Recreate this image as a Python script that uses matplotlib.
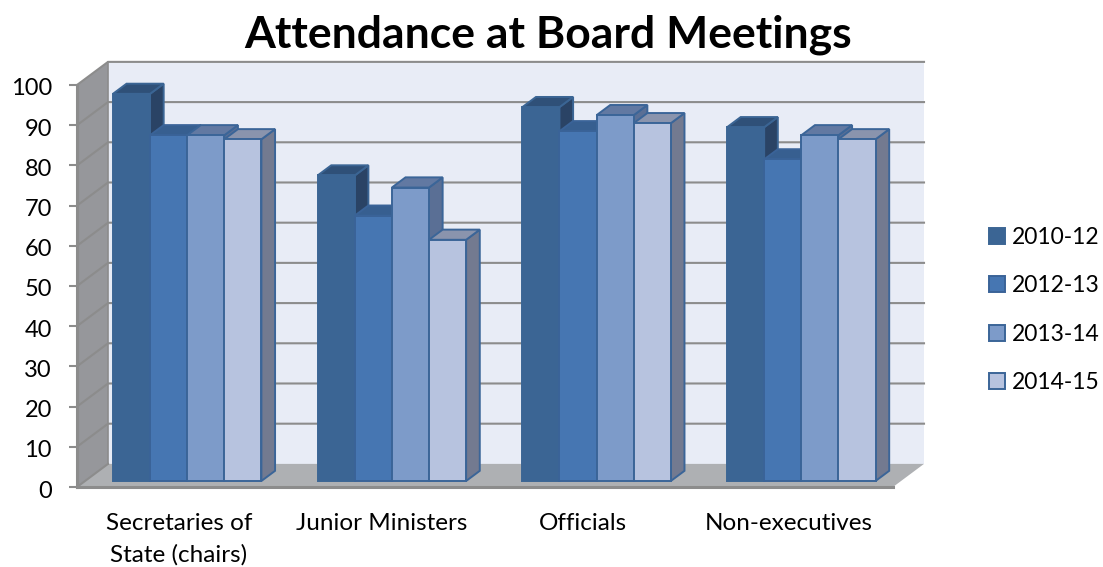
import matplotlib.pyplot as plt
from matplotlib.patches import Patch, Polygon
from matplotlib.transforms import ScaledTranslation


# --------------------------------------------------
# DATA
# --------------------------------------------------

categories = ["Secretaries of\nState (chairs)", "Junior Ministers", "Officials", "Non-executives"]
series_names = ["2010-12", "2012-13", "2013-14", "2014-15"]

values_2010_12 = [96.3, 76, 93, 88]
values_2012_13 = [86, 66, 87, 80]
values_2013_14 = [86, 73, 91, 86]
values_2014_15 = [85, 60, 89, 85]

y_ticks = [0, 10, 20, 30, 40, 50, 60, 70, 80, 90, 100]

# label centres sit a little left of the category centres
label_positions = [0.5, 1.495, 2.48, 3.49]


# --------------------------------------------------
# STYLE
# --------------------------------------------------

plt.rcParams["font.family"] = ["Lato", "DejaVu Sans"]

front_colors = ["#3B6594", "#4676B2", "#7D9BC9", "#B7C3DF"]
top_colors = ["#2F5078", "#375F90", "#6279A2", "#8A94AD"]
side_colors = ["#2A4365", "#2F5078", "#5A6F95", "#737A90"]
edge_colors = ["#3B6594", "#3A6398", "#3B6598", "#3B6598"]

grid_color = "#8C8C8C"

# depth of the 3D box, in axis units
depth_x = 0.152
depth_y = 5.75

# bars stand between these depths
bar_front = 0.26
bar_back = 0.70

bar_width = 0.182
first_bar = 0.176
group_step = 1.0035


def project(x, v, depth):
    return (x + depth * depth_x, v + depth * depth_y)


# --------------------------------------------------
# FIGURE
# --------------------------------------------------

fig = plt.figure(figsize=(11.03, 5.67), dpi=100)

W, H = 1103, 567
ax = fig.add_axes([77 / W, 1 - 487 / H, (893 - 77) / W, (487 - 85) / H])
ax.set_xlim(0, 4)
ax.set_ylim(0, 100)
ax.patch.set_visible(False)

for spine in ax.spines.values():
    spine.set_visible(False)


# --------------------------------------------------
# WALLS AND FLOOR
# --------------------------------------------------

back_wall = [project(0, 0, 1), project(4, 0, 1), project(4, 100, 1), project(0, 100, 1)]
left_wall = [project(0, 0, 0), project(0, 0, 1), project(0, 100, 1), project(0, 100, 0)]
floor = [project(0, 0, 0), project(4, 0, 0), project(4, 0, 1), project(0, 0, 1)]

ax.add_patch(Polygon(back_wall, facecolor="#E8ECF6", edgecolor="none", clip_on=False, zorder=1))
ax.add_patch(Polygon(left_wall, facecolor="#96979B", edgecolor="none", clip_on=False, zorder=1))
ax.add_patch(Polygon(floor, facecolor="#AEB0B3", edgecolor="none", clip_on=False, zorder=1))

for t in y_ticks:
    line_x, line_y = zip(project(0, t, 0), project(0, t, 1), project(4, t, 1))
    if t == 0:
        line_x, line_y = line_x[:2], line_y[:2]
    ax.plot(line_x, line_y, color=grid_color, lw=1.5, clip_on=False, zorder=2,
            solid_joinstyle="miter")

# box edges
ax.plot([0, 0], [0, 100], color=grid_color, lw=2.2, clip_on=False, zorder=2)
ax.plot([0, 4], [0, 0], color=grid_color, lw=2.2, clip_on=False, zorder=2)
edge_x, edge_y = zip(project(0, 0, 1), project(0, 100, 1))
ax.plot(edge_x, edge_y, color=grid_color, lw=1.2, clip_on=False, zorder=2)


# --------------------------------------------------
# BARS
# --------------------------------------------------

all_values = [values_2010_12, values_2012_13, values_2013_14, values_2014_15]

z = 3
for c in range(len(categories)):
    for s, values in enumerate(all_values):
        v = values[c]
        x0 = c * group_step + first_bar + s * bar_width - bar_front * depth_x
        x1 = x0 + bar_width

        front = [project(x0, 0, bar_front), project(x1, 0, bar_front),
                 project(x1, v, bar_front), project(x0, v, bar_front)]
        top = [project(x0, v, bar_front), project(x1, v, bar_front),
               project(x1, v, bar_back), project(x0, v, bar_back)]
        side = [project(x1, 0, bar_front), project(x1, 0, bar_back),
                project(x1, v, bar_back), project(x1, v, bar_front)]

        for points, color in [(side, side_colors[s]), (top, top_colors[s]), (front, front_colors[s])]:
            ax.add_patch(Polygon(points, facecolor=color, edgecolor=edge_colors[s], lw=1.4,
                                 joinstyle="miter", clip_on=False, zorder=z))
            z += 1


# --------------------------------------------------
# AXES AND TEXT
# --------------------------------------------------

ax.set_yticks(y_ticks)
ax.tick_params(axis="y", length=6, width=1.5, color=grid_color, labelsize=17, pad=12,
               labelcolor="black")
ax.set_xticks(label_positions)
ax.set_xticklabels(categories, fontsize=17.5, linespacing=1.6, color="black")
ax.tick_params(axis="x", length=0, pad=18.5)

# nudge y labels down a little
nudge = ScaledTranslation(0, -2 / 100, fig.dpi_scale_trans)
for label in ax.get_yticklabels():
    label.set_transform(label.get_transform() + nudge)

fig.text(548 / W, 1 - 35 / H, "Attendance at Board Meetings", fontsize=32,
         fontweight="bold", ha="center", va="center", color="black")

handles = [
    Patch(facecolor=front_colors[i], edgecolor=edge_colors[i], lw=1.4)
    for i in range(len(series_names))
]
fig.legend(
    handles,
    series_names,
    loc="center left",
    bbox_to_anchor=(968 / W, 1 - 310 / H),
    frameon=False,
    fontsize=16.5,
    handlelength=0.7,
    handleheight=0.7,
    handletextpad=0.3,
    labelspacing=1.2,
    labelcolor="black",
)

fig.savefig("out.png", dpi=100)
plt.close(fig)
